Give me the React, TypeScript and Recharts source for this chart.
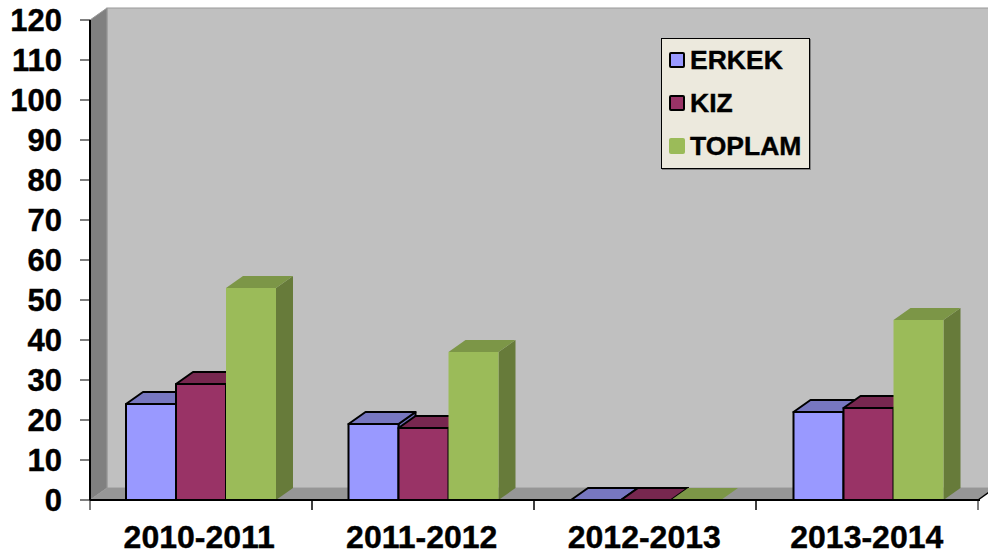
import React from 'react';
import { BarChart, Bar, XAxis, YAxis, Legend, ReferenceArea } from 'recharts';

const YEARS = ['2010-2011', '2011-2012', '2012-2013', '2013-2014'];
const ERKEK = [24, 19, 0, 22];
const KIZ = [29, 18, 0, 23];
const TOPLAM = [53, 37, 0, 45];
const Y_TICKS = [0, 10, 20, 30, 40, 50, 60, 70, 80, 90, 100, 110, 120];

const FONT = '"Liberation Sans", Arial, sans-serif';
const DX = 17;
const DY = 12;
const BAND = 222;

const data = YEARS.map((year, i) => ({
  year,
  ERKEK: ERKEK[i],
  KIZ: KIZ[i],
  TOPLAM: TOPLAM[i],
}));

const SERIES = [
  { key: 'ERKEK', fill: '#9999FF', top: '#7777C0', side: '#6B6BB3', stroke: '#000' },
  { key: 'KIZ', fill: '#993366', top: '#77274F', side: '#6B2447', stroke: '#000' },
  { key: 'TOPLAM', fill: '#9BBB59', top: '#7C9647', side: '#677B3A', stroke: 'none' },
];

function box3d(top: string, side: string, stroke: string) {
  return (props: any) => {
    const { x, y, width, height, fill } = props;
    const b = y + height;
    const r = x + width;
    return (
      <g stroke={stroke} strokeWidth={2} strokeLinejoin="round">
        <polygon points={`${r},${y} ${r + DX},${y - DY} ${r + DX},${b - DY} ${r},${b}`} fill={side} />
        <polygon points={`${x},${y} ${x + DX},${y - DY} ${r + DX},${y - DY} ${r},${y}`} fill={top} />
        {height > 0 && <rect x={x} y={y} width={width} height={height} fill={fill} />}
      </g>
    );
  };
}

// side wall, floor and back wall of the 3D box, plus the front edges that sit on top of them
function Walls(props: any) {
  const { x, y, height } = props;
  const width = props.width - 2;
  const b = y + height;
  return (
    <g>
      <rect x={x + DX} y={y - DY} width={width} height={height} fill="#C0C0C0" stroke="#9A9A9A" strokeWidth={1} />
      <polygon points={`${x},${y} ${x + DX},${y - DY} ${x + DX},${b - DY} ${x},${b}`} fill="#808080" stroke="#9A9A9A" strokeWidth={1} />
      <polygon points={`${x},${b} ${x + DX},${b - DY} ${x + width + DX},${b - DY} ${x + width},${b}`} fill="#969696" />
      <line x1={x} y1={y} x2={x} y2={b} stroke="#000" strokeWidth={2} />
      <line x1={x} y1={b} x2={x + width} y2={b} stroke="#000" strokeWidth={2} />
      <line x1={x + width} y1={b} x2={x + width + DX} y2={b - DY} stroke="#000" strokeWidth={1.5} />
    </g>
  );
}

function YearTick(props: any) {
  const { x, y, payload, index } = props;
  // tick marks run at a slightly tighter pitch than the bars
  const left = x - 222.5 / 2 - index * 0.5;
  return (
    <g>
      <line x1={left} y1={y} x2={left} y2={y + 10} stroke="#000" />
      <line x1={left + BAND} y1={y} x2={left + BAND} y2={y + 10} stroke="#000" />
      <text
        x={x - 2}
        y={y + 48}
        textAnchor="middle"
        fontFamily={FONT}
        fontWeight="bold"
        fontSize={32}
        fill="#000"
        stroke="#000"
        strokeWidth={0.4}
      >
        {payload.value}
      </text>
    </g>
  );
}

function LegendBox() {
  return (
    <div
      style={{
        boxSizing: 'border-box',
        width: 149,
        height: 131,
        background: '#ECE9DD',
        border: '1px solid #000',
        boxShadow: '1px 1px 0 #808080',
        position: 'relative',
      }}
    >
      {SERIES.map((s, i) => (
        <div key={s.key} style={{ position: 'absolute', left: 7, top: 5 + i * 43, height: 32, display: 'flex', alignItems: 'center' }}>
          <span
            style={{
              boxSizing: 'border-box',
              width: 16,
              height: 16,
              marginRight: 5,
              background: s.fill,
              border: s.stroke === 'none' ? 'none' : '2px solid #000',
              borderRadius: 2,
            }}
          />
          <span
            style={{
              fontFamily: FONT,
              fontWeight: 'bold',
              fontSize: 26.5,
              color: '#000',
              lineHeight: '32px',
              WebkitTextStroke: '0.4px #000',
            }}
          >
            {s.key}
          </span>
        </div>
      ))}
    </div>
  );
}

export default function App() {
  return (
    <div style={{ position: 'absolute', left: 0, top: 0, width: 988, height: 556, background: '#fff' }}>
      <BarChart
        width={988}
        height={556}
        data={data}
        barGap={0}
        barSize={50}
        margin={{ top: 20, right: 8, left: 0, bottom: 0 }}
      >
        <ReferenceArea y1={0} y2={120} shape={Walls} ifOverflow="visible" />
        <XAxis
          dataKey="year"
          height={56}
          interval={0}
          tick={<YearTick />}
          tickLine={false}
          tickSize={0}
          tickMargin={0}
          axisLine={{ stroke: '#000', strokeWidth: 2 }}
        />
        <YAxis
          width={90}
          domain={[0, 120]}
          ticks={Y_TICKS}
          interval={0}
          tickSize={10}
          tickMargin={18}
          tickLine={{ stroke: '#000' }}
          axisLine={{ stroke: '#000', strokeWidth: 2 }}
          tick={{ fontFamily: FONT, fontWeight: 'bold', fontSize: 31, fill: '#000', stroke: '#000', strokeWidth: 0.4 }}
        />
        <Legend
          layout="vertical"
          align="center"
          verticalAlign="middle"
          content={<LegendBox />}
          wrapperStyle={{ position: 'absolute', left: 661, top: 38, width: 149, height: 131 }}
        />
        {SERIES.map((s) => (
          <Bar key={s.key} dataKey={s.key} fill={s.fill} shape={box3d(s.top, s.side, s.stroke)} isAnimationActive={false} />
        ))}
      </BarChart>
    </div>
  );
}
